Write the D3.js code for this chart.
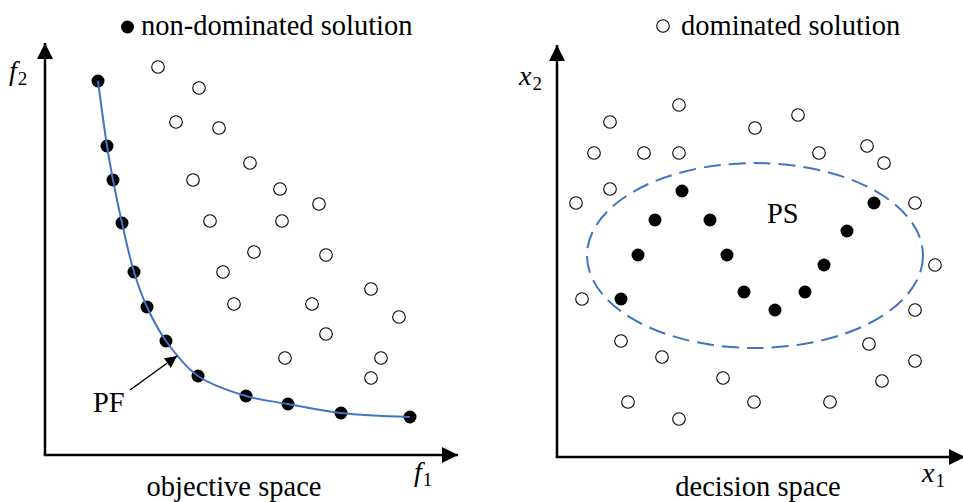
<!DOCTYPE html>
<html>
<head>
<meta charset="utf-8">
<script src="https://cdn.jsdelivr.net/npm/d3@7"></script>
<style>
  html, body { margin: 0; padding: 0; background: #fff; }
  svg { display: block; }
</style>
</head>
<body>
<svg id="chart" width="963" height="502"></svg>
<script>
// ---------- DATA (abstract units) ----------
// Objective space: non-dominated solutions (Pareto front), [f1, f2]
const pfF1 = [5.3, 6.2, 6.8, 7.7, 8.9, 10.2, 12.1, 15.3, 20.1, 24.3, 29.6, 36.5];
const pfF2 = [37.4, 30.9, 27.5, 23.2, 18.3, 14.8, 11.4, 7.9, 5.9, 5.1, 4.2, 3.8];
// Objective space: dominated solutions
const domF1 = [11.3, 15.4, 13.1, 17.4, 20.5, 14.8, 23.5, 27.4, 16.5, 23.7, 20.9, 28.1, 17.8, 32.6, 18.9, 26.7, 35.4, 28.1, 24.0, 33.6, 32.6];
const domF2 = [38.8, 36.7, 33.3, 32.7, 29.2, 27.5, 26.6, 25.1, 23.4, 23.4, 20.3, 20.0, 18.3, 16.6, 15.1, 15.1, 13.8, 12.1, 9.7, 9.7, 7.7];

// Decision space: non-dominated solutions (Pareto set), [x1, x2]
const psX1 = [6.4, 8.1, 9.8, 12.5, 15.3, 17.0, 18.7, 21.8, 24.8, 26.7, 29.0, 31.7];
const psX2 = [15.8, 20.2, 23.7, 26.6, 23.7, 20.2, 16.5, 14.7, 16.5, 19.2, 22.6, 25.4];
// Decision space: dominated solutions
const domX1 = [12.2, 5.3, 24.1, 19.8, 3.7, 8.7, 12.2, 26.2, 31.0, 32.7, 5.3, 1.9, 35.8, 37.8, 2.5, 35.8, 6.4, 10.5, 31.2, 35.8, 16.6, 32.5, 7.1, 19.7, 27.3, 12.2];
const domX2 = [35.2, 33.5, 34.2, 32.9, 30.4, 30.4, 30.4, 30.4, 31.1, 29.4, 26.8, 25.4, 25.4, 19.2, 15.8, 14.7, 11.6, 10.0, 11.3, 9.6, 7.9, 7.6, 5.5, 5.5, 5.5, 3.8];

// PS region (ellipse) centre and radii in decision-space units
const psEllipse = { cx: 19.8, cy: 20.15, rx: 16.8, ry: 9.25 };

// Texts
const legendTexts = ["non-dominated solution", "dominated solution"];
const spaceTitles = ["objective space", "decision space"];

// ---------- LAYOUT ----------
const svg = d3.select("#chart");
const blue = "#4472C4";
const fontSize = 28.5;
const serif = "Liberation Serif";

// Left panel scales (10 px per unit)
const lx = d3.scaleLinear().domain([0, 41.3]).range([45, 458]);
const ly = d3.scaleLinear().domain([0, 41.2]).range([455, 43]);
// Right panel scales
const rx = d3.scaleLinear().domain([0, 40.8]).range([557, 965]);
const ry = d3.scaleLinear().domain([0, 41.2]).range([457, 45]);

// arrowhead markers
const defs = svg.append("defs");
defs.append("marker")
  .attr("id", "axisArrow").attr("viewBox", "0 0 10 10")
  .attr("refX", 10).attr("refY", 5)
  .attr("markerWidth", 6.4).attr("markerHeight", 6.8)
  .attr("markerUnits", "strokeWidth").attr("orient", "auto")
  .append("path").attr("d", "M0,0 L10,5 L0,10 Z").attr("fill", "#000");
defs.append("marker")
  .attr("id", "pfArrow").attr("viewBox", "0 0 10 10")
  .attr("refX", 10).attr("refY", 5)
  .attr("markerWidth", 12).attr("markerHeight", 12)
  .attr("markerUnits", "userSpaceOnUse").attr("orient", "auto")
  .append("path").attr("d", "M0,0 L10,5 L0,10 Z").attr("fill", "#000");

function txt(x, y, s, anchor) {
  return svg.append("text").attr("x", x).attr("y", y)
    .style("font-family", serif).attr("font-size", fontSize)
    .attr("text-anchor", anchor || "start").attr("fill", "#000").text(s);
}

function drawAxes(x, y, xmax, ymax) {
  const g = svg.append("g");
  g.append("line")
    .attr("x1", x(0)).attr("y1", y(0)).attr("x2", x(0)).attr("y2", y(ymax))
    .attr("stroke", "#000").attr("stroke-width", 2.5).attr("marker-end", "url(#axisArrow)");
  g.append("line")
    .attr("x1", x(0) - 1.25).attr("y1", y(0)).attr("x2", x(xmax)).attr("y2", y(0))
    .attr("stroke", "#000").attr("stroke-width", 2.5).attr("marker-end", "url(#axisArrow)");
}

function mathLabel(xPos, yPos, sym, sub) {
  const t = svg.append("text").attr("x", xPos).attr("y", yPos)
    .style("font-family", serif).attr("fill", "#000");
  t.append("tspan").attr("font-style", "italic").attr("font-size", 28).text(sym);
  t.append("tspan").attr("font-size", 19).attr("dy", 5).attr("dx", 1).text(sub);
}

// ---------- LEFT PANEL: objective space ----------
drawAxes(lx, ly, 41.3, 41.2);

const pfPts = pfF1.map((v, i) => [v, pfF2[i]]);
const domPts = domF1.map((v, i) => [v, domF2[i]]);

svg.append("g").selectAll("circle").data(domPts).join("circle")
  .attr("cx", d => lx(d[0])).attr("cy", d => ly(d[1])).attr("r", 6.3)
  .attr("fill", "#fff").attr("stroke", "#000").attr("stroke-width", 1.1);

svg.append("g").selectAll("circle").data(pfPts).join("circle")
  .attr("cx", d => lx(d[0])).attr("cy", d => ly(d[1])).attr("r", 6.5).attr("fill", "#000");

const pfLine = d3.line().x(d => lx(d[0])).y(d => ly(d[1])).curve(d3.curveCatmullRom.alpha(0.5));
svg.append("path").datum(pfPts).attr("d", pfLine)
  .attr("fill", "none").attr("stroke", blue).attr("stroke-width", 2);

// PF annotation arrow
svg.append("line")
  .attr("x1", lx(8.5)).attr("y1", ly(6.5)).attr("x2", lx(13.2)).attr("y2", ly(9.9))
  .attr("stroke", "#000").attr("stroke-width", 1.5).attr("marker-end", "url(#pfArrow)");
txt(lx(4.8), ly(4.3), "PF");

mathLabel(9, 80, "f", "2");
mathLabel(414, 481, "f", "1");

txt(234, 496, spaceTitles[0], "middle");

// legend (left)
svg.append("circle").attr("cx", 127.5).attr("cy", 27).attr("r", 6.5).attr("fill", "#000");
txt(141, 35, legendTexts[0]);

// ---------- RIGHT PANEL: decision space ----------
drawAxes(rx, ry, 40.8, 41.2);

const psPts = psX1.map((v, i) => [v, psX2[i]]);
const domRPts = domX1.map((v, i) => [v, domX2[i]]);

svg.append("g").selectAll("circle").data(domRPts).join("circle")
  .attr("cx", d => rx(d[0])).attr("cy", d => ry(d[1])).attr("r", 6.3)
  .attr("fill", "#fff").attr("stroke", "#000").attr("stroke-width", 1.1);

svg.append("g").selectAll("circle").data(psPts).join("circle")
  .attr("cx", d => rx(d[0])).attr("cy", d => ry(d[1])).attr("r", 6.5).attr("fill", "#000");

svg.append("ellipse")
  .attr("cx", rx(psEllipse.cx)).attr("cy", ry(psEllipse.cy))
  .attr("rx", rx(psEllipse.rx) - rx(0)).attr("ry", ry(0) - ry(psEllipse.ry))
  .attr("fill", "none").attr("stroke", blue).attr("stroke-width", 2)
  .attr("stroke-dasharray", "17 8");

txt(rx(21.0), ry(23.4), "PS");

mathLabel(519, 85, "x", "2");
mathLabel(922, 482, "x", "1");

txt(758, 496, spaceTitles[1], "middle");

// legend (right)
svg.append("circle").attr("cx", 663).attr("cy", 26).attr("r", 6.3)
  .attr("fill", "#fff").attr("stroke", "#000").attr("stroke-width", 1.1);
txt(681, 35, legendTexts[1]);
</script>
</body>
</html>
